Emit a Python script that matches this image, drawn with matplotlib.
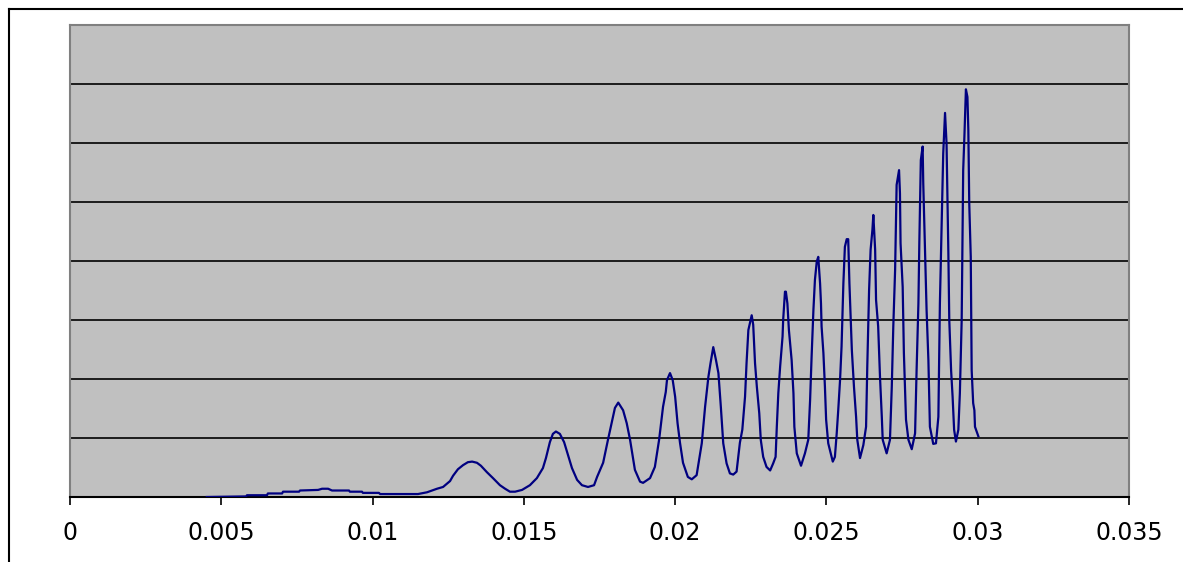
import matplotlib
matplotlib.use("Agg")
import matplotlib.pyplot as plt
from matplotlib.lines import Line2D

# curve (x in data units, y in gridline units 0..8)
x_vals = [
    0.00452, 0.00582, 0.00585, 0.00651, 0.00654, 0.00701, 0.00704, 0.00757,
    0.00760, 0.00820, 0.00833, 0.00853, 0.00866, 0.00922, 0.00925, 0.00965,
    0.00968, 0.01021, 0.01025, 0.01150,
    0.01180, 0.01213, 0.01233, 0.01256, 0.01266, 0.01282, 0.01299, 0.01315,
    0.01329, 0.01345, 0.01358, 0.01378, 0.01398, 0.01421, 0.01438, 0.01454,
    0.01471, 0.01494, 0.01520, 0.01543, 0.01563, 0.01573, 0.01586, 0.01596,
    0.01606, 0.01619, 0.01633, 0.01646, 0.01659, 0.01676, 0.01692, 0.01712,
    0.01732, 0.01742, 0.01762, 0.01778, 0.01790, 0.01801, 0.01812, 0.01828,
    0.01840, 0.01851, 0.01867, 0.01884, 0.01894, 0.01917, 0.01933, 0.01947,
    0.01960, 0.01969, 0.01973, 0.01983, 0.01992, 0.02000, 0.02008, 0.02016,
    0.02026, 0.02042, 0.02055, 0.02071, 0.02088, 0.02099, 0.02110, 0.02117,
    0.02126, 0.02135, 0.02143, 0.02151, 0.02159, 0.02170, 0.02181, 0.02192,
    0.02203, 0.02214, 0.02222, 0.02231, 0.02236, 0.02242, 0.02253, 0.02258,
    0.02264, 0.02270, 0.02278, 0.02283, 0.02291, 0.02302, 0.02314, 0.02324,
    0.02332, 0.02336, 0.02341, 0.02347, 0.02355, 0.02357, 0.02363, 0.02366,
    0.02371, 0.02376, 0.02385, 0.02391, 0.02394, 0.02402, 0.02416, 0.02429,
    0.02440, 0.02446, 0.02451, 0.02457, 0.02462, 0.02468, 0.02473, 0.02479,
    0.02482, 0.02484, 0.02490, 0.02495, 0.02499, 0.02506, 0.02521, 0.02528,
    0.02534, 0.02539, 0.02545, 0.02550, 0.02556, 0.02561, 0.02567, 0.02572,
    0.02576, 0.02584, 0.02591, 0.02598, 0.02602, 0.02611, 0.02622, 0.02631,
    0.02635, 0.02641, 0.02646, 0.02652, 0.02655, 0.02661, 0.02664, 0.02671,
    0.02677, 0.02683, 0.02686, 0.02699, 0.02710, 0.02716, 0.02721, 0.02727,
    0.02732, 0.02740, 0.02743, 0.02745, 0.02752, 0.02756, 0.02763, 0.02771,
    0.02782, 0.02793, 0.02798, 0.02804, 0.02807, 0.02812, 0.02818, 0.02820,
    0.02826, 0.02831, 0.02837, 0.02842, 0.02853, 0.02862, 0.02870, 0.02875,
    0.02881, 0.02886, 0.02892, 0.02897, 0.02903, 0.02906, 0.02912, 0.02917,
    0.02922, 0.02928, 0.02936, 0.02941, 0.02947, 0.02952, 0.02956, 0.02961,
    0.02966, 0.02969, 0.02972, 0.02977, 0.02980, 0.02985, 0.02989, 0.02991,
    0.03002,
]
y_vals = [
    0.00, 0.01, 0.03, 0.03, 0.06, 0.06, 0.09, 0.09,
    0.11, 0.12, 0.14, 0.14, 0.11, 0.11, 0.09, 0.09,
    0.07, 0.07, 0.05, 0.05,
    0.08, 0.14, 0.17, 0.27, 0.36, 0.47, 0.54, 0.59,
    0.60, 0.58, 0.53, 0.42, 0.32, 0.20, 0.14, 0.09,
    0.09, 0.12, 0.20, 0.32, 0.49, 0.66, 0.93, 1.07,
    1.11, 1.07, 0.93, 0.71, 0.49, 0.29, 0.20, 0.17,
    0.20, 0.34, 0.58, 0.97, 1.25, 1.51, 1.60, 1.47,
    1.25, 0.97, 0.46, 0.26, 0.24, 0.32, 0.51, 0.97,
    1.53, 1.78, 1.98, 2.10, 1.98, 1.70, 1.25, 0.92,
    0.58, 0.34, 0.30, 0.37, 0.91, 1.53, 2.04, 2.27,
    2.54, 2.32, 2.10, 1.53, 0.91, 0.57, 0.40, 0.38,
    0.43, 0.92, 1.14, 1.70, 2.27, 2.83, 3.08, 2.92,
    2.27, 1.87, 1.42, 0.97, 0.68, 0.51, 0.45, 0.57,
    0.68, 1.19, 1.76, 2.21, 2.72, 3.00, 3.48, 3.48,
    3.28, 2.83, 2.32, 1.76, 1.19, 0.74, 0.53, 0.74,
    0.97, 1.64, 2.38, 3.17, 3.68, 3.99, 4.07, 3.62,
    3.28, 2.89, 2.44, 1.87, 1.31, 0.91, 0.60, 0.68,
    1.08, 1.47, 1.98, 2.55, 3.62, 4.24, 4.37, 4.37,
    3.62, 2.49, 1.87, 1.36, 0.97, 0.66, 0.88, 1.19,
    2.21, 3.51, 4.19, 4.53, 4.78, 4.19, 3.34, 2.89,
    2.04, 1.36, 0.97, 0.74, 0.97, 1.87, 2.89, 3.85,
    5.29, 5.54, 5.15, 4.30, 3.56, 2.44, 1.31, 0.97,
    0.81, 1.08, 2.15, 3.28, 4.30, 5.71, 5.94, 5.32,
    4.13, 3.17, 2.32, 1.19, 0.90, 0.91, 1.36, 3.28,
    4.69, 5.82, 6.51, 5.99, 4.13, 3.00, 2.15, 1.70,
    1.14, 0.94, 1.14, 1.76, 3.00, 5.54, 6.11, 6.91,
    6.78, 6.22, 4.98, 4.07, 2.15, 1.59, 1.47, 1.19,
    1.03,
]

x_ticks = [0, 0.005, 0.01, 0.015, 0.02, 0.025, 0.03, 0.035]
x_labels = ["0", "0.005", "0.01", "0.015", "0.02", "0.025", "0.03", "0.035"]
grid_levels = [1, 2, 3, 4, 5, 6, 7]

fig = plt.figure(figsize=(11.83, 5.62), dpi=100)
ax = fig.add_axes([70 / 1183, 1 - 497 / 562, 1059 / 1183, 472 / 562])

ax.set_facecolor("#C0C0C0")
for lv in grid_levels:
    ax.axhline(lv, color="black", lw=1.2, zorder=1)

ax.plot(x_vals, y_vals, color="#000080", lw=1.6, zorder=3)

ax.set_xlim(0, 0.035)
ax.set_ylim(0, 8)
ax.set_xticks(x_ticks)
ax.set_xticklabels(x_labels, fontsize=17, family="DejaVu Sans")
ax.set_yticks([])
ax.tick_params(axis="x", direction="out", length=6, width=1.2, color="black", pad=11)

for s in ["left", "top", "right"]:
    ax.spines[s].set_color("#808080")
    ax.spines[s].set_linewidth(1.5)
ax.spines["bottom"].set_color("black")
ax.spines["bottom"].set_linewidth(1.5)

# outer chart frame (left and top edges visible)
fig.add_artist(Line2D([8.5 / 1183, 8.5 / 1183], [0, 1 - 8.5 / 562], color="black", lw=1.5))
fig.add_artist(Line2D([8.5 / 1183, 1], [1 - 8.5 / 562, 1 - 8.5 / 562], color="black", lw=1.5))

fig.savefig("out.png", dpi=100)
